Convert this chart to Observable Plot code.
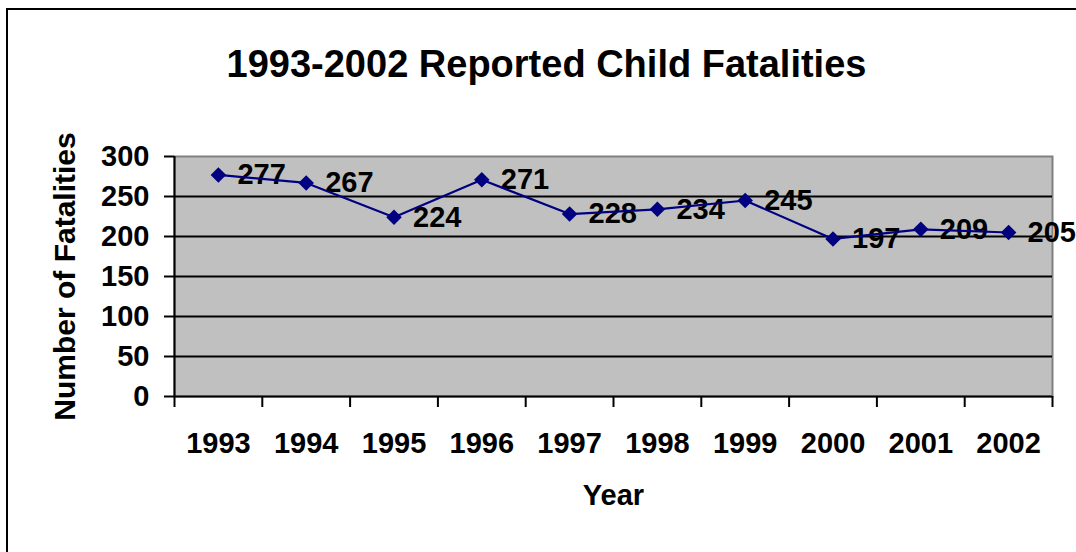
<!DOCTYPE html>
<html>
<head>
<meta charset="utf-8">
<script src="https://cdn.jsdelivr.net/npm/d3@7"></script>
<script src="https://cdn.jsdelivr.net/npm/@observablehq/plot@0.6"></script>
<style>
  html, body { margin: 0; padding: 0; background: #fff; overflow: hidden; }
  #wrap { position: relative; width: 1076px; height: 552px; }
  #border { position: absolute; left: 6px; top: 8px; width: 1200px; height: 700px;
            border: 2px solid #000; pointer-events: none; box-sizing: border-box; }
  svg { display: block; }
</style>
</head>
<body>
<div id="wrap"><div id="border"></div></div>
<script>
const years = [1993, 1994, 1995, 1996, 1997, 1998, 1999, 2000, 2001, 2002];
const fatalities = [277, 267, 224, 271, 228, 234, 245, 197, 209, 205];
const yTicks = [0, 50, 100, 150, 200, 250, 300];
const gridValues = [50, 100, 150, 200, 250];
const title = "1993-2002 Reported Child Fatalities";
const xTitle = "Year";
const yTitle = "Number of Fatalities";

const data = years.map((year, i) => ({year, value: fatalities[i]}));
const bandEdges = [years[0] - 0.5, ...years.map(y => y + 0.5)];

const font = "Arial, 'Liberation Sans', sans-serif";

const chart = Plot.plot({
  width: 1076,
  height: 552,
  marginLeft: 174,
  marginRight: 24,
  marginTop: 156,
  marginBottom: 156,
  style: {fontFamily: font, fontWeight: "bold", color: "#000", background: "transparent"},
  x: {type: "linear", domain: [years[0] - 0.5, years[years.length - 1] + 0.5]},
  y: {domain: [0, 300]},
  marks: [
    Plot.frame({fill: "#c0c0c0", stroke: "#808080", strokeWidth: 2}),
    Plot.ruleY(gridValues, {stroke: "#000", strokeWidth: 2}),
    Plot.ruleY([0], {stroke: "#000", strokeWidth: 2}),
    Plot.ruleX([bandEdges[0]], {stroke: "#000", strokeWidth: 2}),
    Plot.axisY({ticks: yTicks, tickSize: 10, tickPadding: 15, strokeWidth: 2, stroke: "#000",
                fontSize: 29, fontWeight: "bold", label: null}),
    Plot.axisX({ticks: bandEdges, tickSize: 11, tickFormat: () => "", strokeWidth: 2, stroke: "#000", label: null}),
    Plot.axisX({ticks: years, tickSize: 0, tickPadding: 36, tickFormat: d => String(d),
                fontSize: 29, fontWeight: "bold", label: null}),
    Plot.text(data, {x: "year", y: "value", text: d => String(d.value), dx: 19,
                     textAnchor: "start", lineAnchor: "middle", fontSize: 29, fontWeight: "bold", fill: "#000"}),
    Plot.line(data, {x: "year", y: "value", stroke: "#000080", strokeWidth: 2.2}),
    Plot.dot(data, {x: "year", y: "value", symbol: "diamond2", r: 7, fill: "#000080", stroke: "none"}),
    Plot.text([title], {frameAnchor: "top", dx: -67, dy: -92, lineAnchor: "middle",
                        fontSize: 38, fontWeight: "bold", fill: "#000"}),
    Plot.text([xTitle], {frameAnchor: "bottom", dy: 99, lineAnchor: "middle",
                         fontSize: 29, fontWeight: "bold", fill: "#000"}),
    Plot.text([yTitle], {frameAnchor: "left", dx: -109, rotate: -90, textAnchor: "middle", lineAnchor: "middle",
                         fontSize: 30, fontWeight: "bold", fill: "#000"})
  ]
});
document.getElementById("wrap").prepend(chart);
</script>
</body>
</html>
